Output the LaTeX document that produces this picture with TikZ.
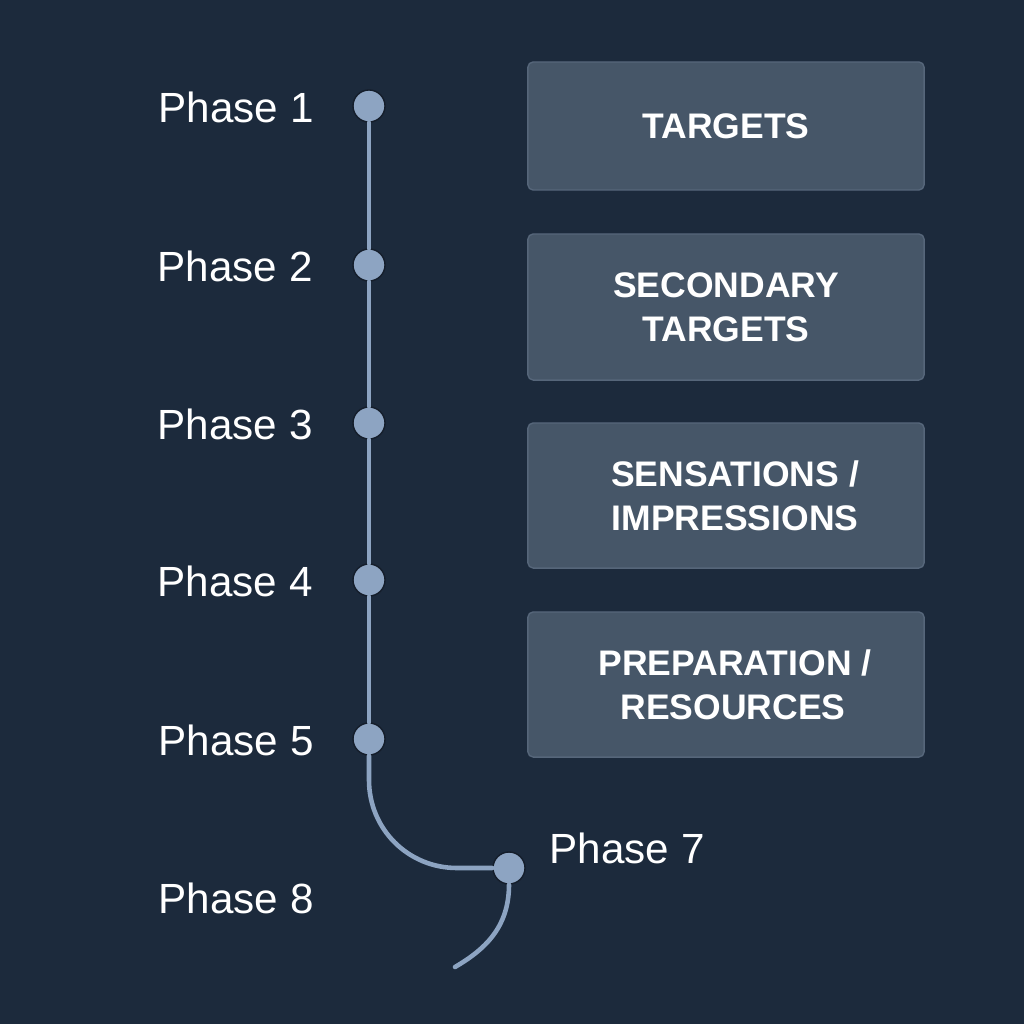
\documentclass[tikz,border=0pt]{standalone}
\usepackage{fontspec}
\setmainfont{Liberation Sans}
\usetikzlibrary{calc}
\definecolor{bgnavy}{HTML}{1C2A3C}
\definecolor{cardfill}{HTML}{465668}
\definecolor{cardedge}{HTML}{56667A}
\definecolor{trackblue}{HTML}{8DA4C2}

\begin{document}
\begin{tikzpicture}[x=0.01cm, y=-0.01cm,
  dot/.style={circle, fill=trackblue, draw=bgnavy!70!black, line width=0.4pt,
    minimum size=0.32cm, inner sep=0pt},
  phase/.style={anchor=west, inner sep=0pt, text=white,
    font=\fontsize{12}{14}\selectfont},
  card/.style={rectangle, rounded corners=1.5pt, fill=cardfill, draw=cardedge,
    line width=0.4pt, minimum width=3.96cm, text=white, align=center,
    font=\bfseries\fontsize{10.1}{12.5}\selectfont},
  track/.style={draw=trackblue, line width=1.3pt, line cap=round}]

% background and page size
\fill[bgnavy] (0,0) rectangle (1024,1024);
\useasboundingbox (0,0) rectangle (1024,1024);

% phase dots
\node[dot] (p1) at (369,106) {};
\node[dot] (p2) at (369,265) {};
\node[dot] (p3) at (369,423) {};
\node[dot] (p4) at (369,580) {};
\node[dot] (p5) at (369,739) {};
\node[dot] (p7) at (509,868) {};
\coordinate (tail) at (455,967);

% timeline
\draw[track] (p1) -- (p2) -- (p3) -- (p4) -- (p5);
\draw[track] (p5) -- (369,780) .. controls (369,829) and (408,868) .. (457,868) -- (p7);
\draw[track] (p7) .. controls (509,928) and (484,950) .. (tail);

% labels
\node[phase] (l1) at (158,107) {Phase 1};
\node[phase] (l2) at (157,266) {Phase 2};
\node[phase] (l3) at (157,424) {Phase 3};
\node[phase] (l4) at (157,581) {Phase 4};
\node[phase] (l5) at (158,740) {Phase 5};
\node[phase] (l7) at (549,848) {Phase 7};
\node[phase] (l8) at (158,898) {Phase 8};

% cards
\node[card, minimum height=1.28cm] (c1) at (726,126) {TARGETS};
\node[card, minimum height=1.46cm] (c2) at (726,307) {SECONDARY\\TARGETS};
\node[card, minimum height=1.45cm] (c3) at (726,495.5) {\hspace*{0.18cm}SENSATIONS /\\\hspace*{0.18cm}IMPRESSIONS};
\node[card, minimum height=1.45cm] (c4) at (726,684.5) {\hspace*{0.18cm}PREPARATION /\\\hspace*{0.14cm}RESOURCES};
\end{tikzpicture}
\end{document}
